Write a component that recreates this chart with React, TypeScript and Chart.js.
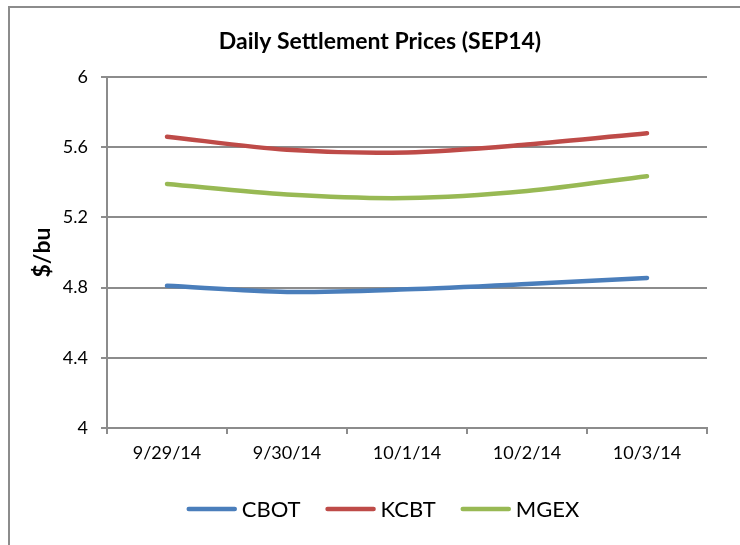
import React, { useEffect, useRef } from "react";
import { Chart, registerables } from "chart.js";

Chart.register(...registerables);

const categories = ["9/29/14", "9/30/14", "10/1/14", "10/2/14", "10/3/14"];
const cbot = [4.81, 4.775, 4.79, 4.82, 4.855];
const kcbt = [5.66, 5.585, 5.57, 5.615, 5.68];
const mgex = [5.39, 5.33, 5.31, 5.35, 5.435];
const seriesNames = ["CBOT", "KCBT", "MGEX"];
const seriesColors = ["#4A7EBB", "#BE4B48", "#98B954"];
const yTicks = [4, 4.4, 4.8, 5.2, 5.6, 6];
const titleText = "Daily Settlement Prices (SEP14)";
const yTitle = "$/bu";

const FONT = "Lato, 'Open Sans', sans-serif";
const GRID = "#8c8c8c";

const overlay = {
  id: "overlay",
  afterDraw(chart: any) {
    const ctx = chart.ctx as CanvasRenderingContext2D;
    ctx.save();
    ctx.fillStyle = "#000";
    ctx.font = `bold 23px ${FONT}`;
    ctx.textAlign = "center";
    ctx.textBaseline = "middle";
    ctx.fillText(titleText, 380, 42);

    ctx.font = `22px ${FONT}`;
    const lineW = 50;
    const gap = 5;
    const itemGap = 25;
    const items = chart.data.datasets.map((ds: any) => ({
      label: ds.label,
      color: ds.borderColor,
      w: ctx.measureText(ds.label).width,
    }));
    const total =
      items.reduce((s: number, it: any) => s + lineW + gap + it.w, 0) +
      itemGap * (items.length - 1);
    let x = 383 - total / 2;
    const y = 509;
    ctx.textAlign = "left";
    ctx.lineCap = "round";
    ctx.lineWidth = 4.5;
    for (const it of items) {
      ctx.strokeStyle = it.color;
      ctx.beginPath();
      ctx.moveTo(x + 2, y);
      ctx.lineTo(x + lineW - 2, y);
      ctx.stroke();
      x += lineW + gap;
      ctx.fillText(it.label, x, y + 1);
      x += it.w + itemGap;
    }
    ctx.restore();
  },
};

export default function App() {
  const ref = useRef<HTMLCanvasElement | null>(null);

  useEffect(() => {
    document.body.style.overflow = "hidden";
    const canvas = ref.current!;
    const values = [cbot, kcbt, mgex];
    const chart = new Chart(canvas, {
      type: "line",
      data: {
        labels: categories,
        datasets: seriesNames.map((name, i) => ({
          label: name,
          data: values[i],
          borderColor: seriesColors[i],
          backgroundColor: seriesColors[i],
          borderWidth: 4.5,
          tension: 0.3,
          pointRadius: 0,
          pointHoverRadius: 0,
          borderCapStyle: "round" as const,
          borderJoinStyle: "round" as const,
          fill: false,
        })),
      },
      options: {
        animation: false,
        responsive: false,
        devicePixelRatio: 1,
        layout: { padding: { left: 20, right: 33, top: 77, bottom: 77 } },
        plugins: {
          legend: { display: false },
          tooltip: { enabled: false },
          title: { display: false },
        },
        scales: {
          x: {
            type: "category",
            offset: true,
            grid: {
              display: true,
              drawOnChartArea: false,
              drawTicks: true,
              tickLength: 6,
              offset: true,
              color: GRID,
              lineWidth: 2,
            },
            border: { display: true, color: GRID, width: 2 },
            ticks: {
              color: "#000",
              font: { family: FONT, size: 18 },
              padding: 8,
              maxRotation: 0,
              autoSkip: false,
            },
            afterFit: (s: any) => {
              s.height = 40;
            },
          },
          y: {
            min: 4,
            max: 6,
            afterBuildTicks: (s: any) => {
              s.ticks = yTicks.map((v) => ({ value: v }));
            },
            grid: {
              color: GRID,
              lineWidth: 2,
              drawTicks: true,
              tickLength: 6,
            },
            border: { display: true, color: GRID, width: 2 },
            ticks: {
              color: "#000",
              font: { family: FONT, size: 18 },
              padding: 13,
              callback: (v: any) => String(v),
            },
            title: {
              display: true,
              text: yTitle,
              color: "#000",
              font: { family: FONT, size: 23, weight: "bold" },
              padding: { top: 9, bottom: 0 },
            },
            afterFit: (s: any) => {
              s.width = 87;
            },
          },
        },
      },
      plugins: [overlay],
    });
    return () => chart.destroy();
  }, []);

  return (
    <>
      <div
        style={{
          position: "fixed",
          left: 8,
          top: 6,
          width: 760,
          height: 560,
          borderLeft: "2px solid #8c8c8c",
          borderTop: "2px solid #8c8c8c",
          boxSizing: "border-box",
        }}
      />
      <div style={{ position: "fixed", left: 0, top: 0, width: 740, height: 545 }}>
        <canvas ref={ref} width={740} height={545} style={{ display: "block" }} />
      </div>
    </>
  );
}
